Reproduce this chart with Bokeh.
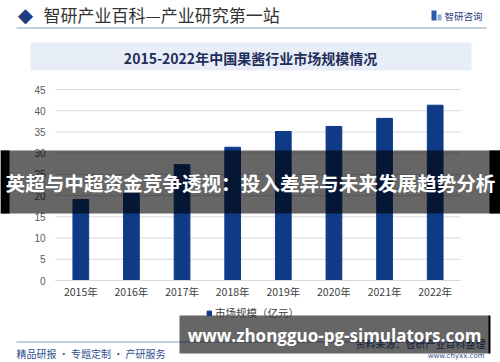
from bokeh.plotting import figure
from bokeh.models import (Range1d, Label, BoxAnnotation, Legend, LegendItem,
                          ColumnDataSource, LinearAxis, FixedTicker)
from bokeh.embed import file_html
from bokeh.resources import INLINE

# ---- data ----
years = ["2015年", "2016年", "2017年", "2018年", "2019年", "2020年", "2021年", "2022年"]
market_size = [19.1, 20.5, 27.3, 31.4, 35.1, 36.3, 38.2, 41.3]
y_ticks = [0, 5, 10, 15, 20, 25, 30, 35, 40, 45]
series_name = "市场规模（亿元）"
chart_title = "2015-2022年中国果酱行业市场规模情况"
header_text = "智研产业百科—产业研究第一站"
banner_text = "英超与中超资金竞争透视：投入差异与未来发展趋势分析"
url_text = "www.zhongguo-pg-simulators.com"

# ---- layout (pixels on the 500x362 canvas) ----
W, H = 500, 362
PLOT_L, PLOT_R = 55, 460      # chart area left/right
PLOT_Y0, PLOT_Y45 = 280, 89   # canvas y of value 0 and 45
CJK = "Noto Sans CJK SC"

n = len(years)
px_per_cat = (PLOT_R - PLOT_L) / n
x_start = -0.5 - PLOT_L / px_per_cat
x_end = n - 0.5 + (W - PLOT_R) / px_per_cat
px_per_val = (PLOT_Y0 - PLOT_Y45) / 45.0
y_start = -(H - PLOT_Y0) / px_per_val
y_end = PLOT_Y0 / px_per_val

p = figure(width=W, height=H, x_range=Range1d(x_start, x_end), y_range=Range1d(y_start, y_end),
           output_backend="svg", toolbar_location=None, title=None,
           x_axis_type=None, y_axis_type=None,
           min_border_left=0, min_border_right=0, min_border_top=0, min_border_bottom=0)
p.outline_line_color = None
p.background_fill_color = "white"
p.border_fill_color = "white"
p.xgrid.visible = False
p.ygrid.visible = False

xs = list(range(n))
src = ColumnDataSource(dict(x=xs, year=years, value=market_size))

# horizontal gridlines at the tick values, across the chart area
p.segment(x0=[-0.5] * len(y_ticks), x1=[n - 0.5] * len(y_ticks), y0=y_ticks, y1=y_ticks,
          line_color="#d9d9d9", line_width=1)

bars = p.vbar(x="x", top="value", width=0.31, source=src,
              fill_color="#0f3a86", line_color="#0f3a86")

xaxis = LinearAxis(fixed_location=0, bounds=(-0.5, n - 0.5),
                   ticker=FixedTicker(ticks=xs),
                   major_label_overrides={i: y for i, y in zip(xs, years)})
xaxis.axis_line_color = "#d9d9d9"
xaxis.major_tick_line_color = None
xaxis.minor_tick_line_color = None
xaxis.major_tick_in = 0
xaxis.major_tick_out = 0
xaxis.major_label_text_font = CJK
xaxis.major_label_text_font_size = "10.5px"
xaxis.major_label_text_color = "#404040"
xaxis.major_label_standoff = 3
p.add_layout(xaxis, "below")

yaxis = LinearAxis(fixed_location=-0.5, ticker=FixedTicker(ticks=y_ticks))
yaxis.axis_line_color = None
yaxis.major_tick_line_color = None
yaxis.minor_tick_line_color = None
yaxis.major_tick_in = 0
yaxis.major_tick_out = 0
yaxis.major_label_text_font = "Liberation Sans"
yaxis.major_label_text_font_size = "10px"
yaxis.major_label_text_color = "#595959"
yaxis.major_label_standoff = 10
p.add_layout(yaxis, "left")

legend = Legend(items=[LegendItem(label=series_name, renderers=[bars])],
                location=(206, H - 320), orientation="horizontal",
                glyph_width=6, glyph_height=6, label_standoff=3,
                label_text_font=CJK, label_text_font_size="10.5px",
                label_text_color="#404040", label_height=12,
                padding=0, margin=0, spacing=0,
                background_fill_alpha=0, border_line_color=None)
p.add_layout(legend)


def box(l, r, t, b, color, alpha=1.0):
    p.add_layout(BoxAnnotation(left=l, right=r, top=t, bottom=b,
                               left_units="canvas", right_units="canvas",
                               top_units="canvas", bottom_units="canvas",
                               fill_color=color, fill_alpha=alpha, line_color=None))


def label(x, y, text, size, color, font=CJK, style="normal", align="left"):
    p.add_layout(Label(x=x, y=y, x_units="canvas", y_units="canvas", text=text,
                       text_font=font, text_font_size=size, text_color=color,
                       text_font_style=style, text_align=align, text_baseline="middle"))


# header
label(25, 14, "◆", "20px", "#1f3b80", font="DejaVu Sans", align="center")
label(43, 14, header_text, "17px", "#333333")
box(431, 436, 10, 20, "#2a5caa")
box(437, 441, 14, 20, "#8fb0de")
label(444, 15, "智研咨询", "9.5px", "#1f3b80")
box(16, 486, 27, 28, "#8c9cc4")

# chart title box
box(30, 471, 42, 70, "#e8eef7")
label(250, 57, chart_title, "14px", "#1f2d5a", style="bold", align="center")

# footer
box(16, 486, 341, 342, "#8c9cc4")
label(16, 353, "精品研报 · 专题定制 · 产研服务", "10px", "#2f4f8f")
label(485, 343, "资料来源：智研产业百科整理", "10px", "#2f4f8f", align="right")
label(484, 355, "www.chyxx.com", "7px", "#2f4f8f", font="DejaVu Sans", align="right")

# overlay banner
box(0, 500, 150, 213, "black", 0.6)
box(0, 9, 150, 213, "black")
box(489, 500, 150, 213, "black")
label(250, 182, banner_text, "19.6px", "white", style="bold", align="center")

# url banner
box(179, 489, 315, 353, "black", 0.6)
box(488, 490, 315, 353, "black")
label(334, 335, url_text, "17px", "white", font="Open Sans", style="bold", align="center")

open("out.html", "w").write(file_html(p, INLINE))
